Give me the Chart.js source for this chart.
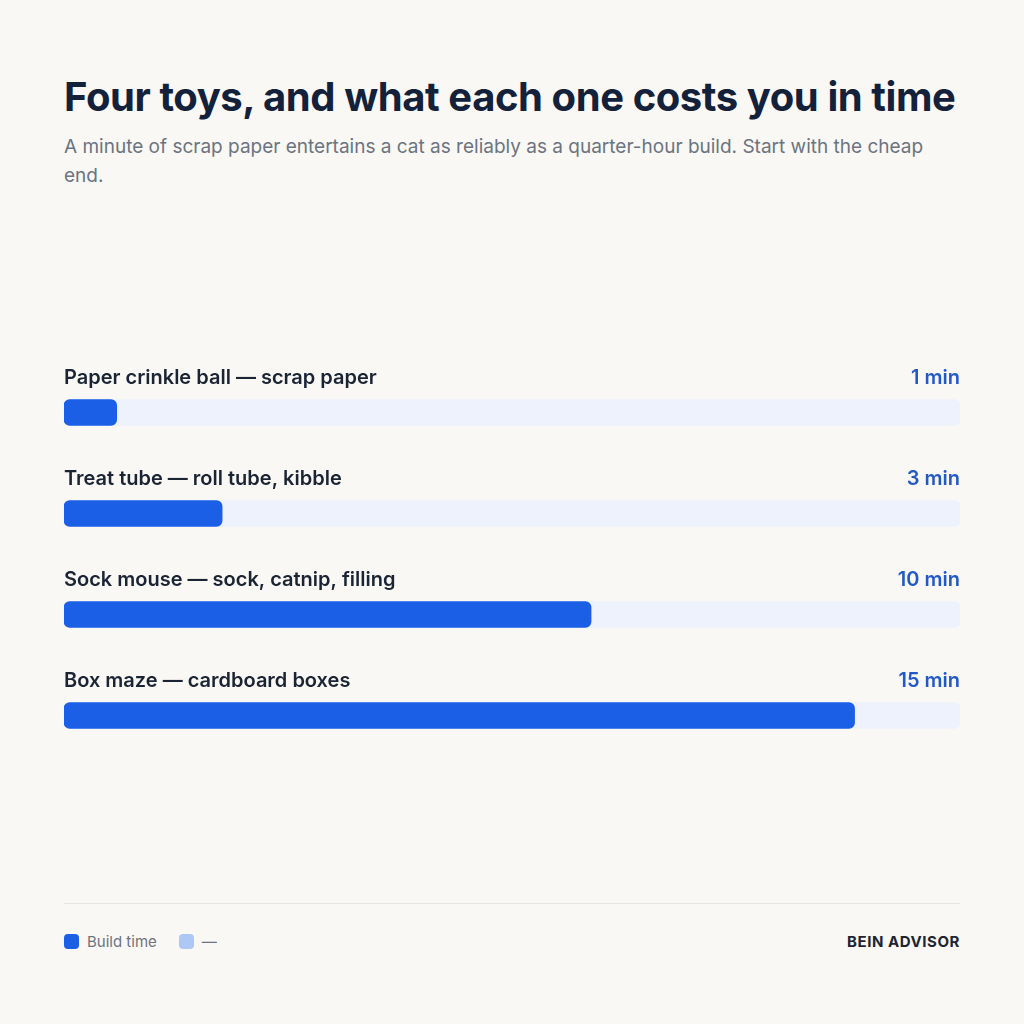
<!DOCTYPE html>
<html>
<head>
<meta charset="utf-8">
<script src="https://cdn.jsdelivr.net/npm/chart.js@4"></script>
<style>
  html, body { margin: 0; padding: 0; background: #faf8f5; }
  body { width: 1024px; height: 1024px; position: relative; font-family: Inter, "Noto Sans", sans-serif; }
  .wrap { position: absolute; left: 64px; top: 0; width: 896px; }
  h1 { margin: 0; position: absolute; top: 72px; left: 0; font-size: 40px; font-weight: 700; color: #13213a; letter-spacing: -0.42px; white-space: nowrap; }
  .sub { position: absolute; top: 132px; left: 0; width: 896px; font-size: 19px; line-height: 29px; color: #6b7480; }
  .chartBox { position: absolute; top: 362px; left: 0; width: 896px; height: 404px; }
  .rule { position: absolute; top: 903px; left: 0; width: 896px; height: 1px; background: #e6e6e6; }
  .legend { position: absolute; top: 932px; left: 0; display: flex; align-items: center; font-size: 15px; color: #6b7480; }
  .legend span.sw { display: inline-block; width: 15px; height: 15px; border-radius: 4px; margin-right: 8px; }
  .legend .item { display: flex; align-items: center; margin-right: 22px; }
  .brand { position: absolute; top: 932px; right: 0; font-size: 15px; font-weight: 700; color: #1b2533; letter-spacing: 0.55px; }
</style>
</head>
<body>
<div class="wrap">
  <h1>Four toys, and what each one costs you in time</h1>
  <div class="sub">A minute of scrap paper entertains a cat as reliably as a quarter-hour build. Start with the cheap end.</div>
  <div class="chartBox"><canvas id="myChart"></canvas></div>
  <div class="rule"></div>
  <div class="legend">
    <div class="item"><span class="sw" style="background:#1a5fe6"></span>Build time</div>
    <div class="item"><span class="sw" style="background:#aec8f6"></span>—</div>
  </div>
  <div class="brand">BEIN ADVISOR</div>
</div>
<script>
var toys = ['Paper crinkle ball — scrap paper', 'Treat tube — roll tube, kibble', 'Sock mouse — sock, catnip, filling', 'Box maze — cardboard boxes'];
var buildMinutes = [1, 3, 10, 15];
var trackMax = [17, 17, 17, 17];
var scaleMax = 17;

var rowLabels = {
    id: 'rowLabels',
    afterDatasetsDraw: function(chart) {
        var ctx = chart.ctx;
        var meta = chart.getDatasetMeta(0);
        var area = chart.chartArea;
        ctx.save();
        ctx.textBaseline = 'middle';
        meta.data.forEach(function(bar, i) {
            var y = bar.y - 35;
            ctx.font = '600 20px Inter, "Noto Sans", sans-serif';
            ctx.fillStyle = '#1a2433';
            ctx.textAlign = 'left';
            ctx.fillText(toys[i], area.left, y);
            ctx.font = '600 20px Inter, "Noto Sans", sans-serif';
            ctx.fillStyle = '#2159c6';
            ctx.textAlign = 'right';
            ctx.fillText(buildMinutes[i] + ' min', area.right, y);
        });
        ctx.restore();
    }
};

var ctx = document.getElementById('myChart').getContext('2d');
var myChart = new Chart(ctx, {
    type: 'bar',
    data: {
        labels: toys,
        datasets: [{
            label: 'Build time',
            data: buildMinutes,
            backgroundColor: '#1a5fe6',
            borderRadius: 6,
            borderSkipped: false,
            barThickness: 26,
            grouped: false
        }, {
            label: '—',
            data: trackMax,
            backgroundColor: '#edf2fc',
            borderRadius: 6,
            borderSkipped: false,
            barThickness: 26,
            grouped: false
        }]
    },
    options: {
        indexAxis: 'y',
        responsive: true,
        maintainAspectRatio: false,
        animation: false,
        layout: { padding: 0 },
        scales: {
            x: { display: false, min: 0, max: scaleMax },
            y: { display: false }
        },
        plugins: {
            legend: { display: false },
            tooltip: { enabled: false }
        }
    },
    plugins: [rowLabels]
});
</script>
</body>
</html>
